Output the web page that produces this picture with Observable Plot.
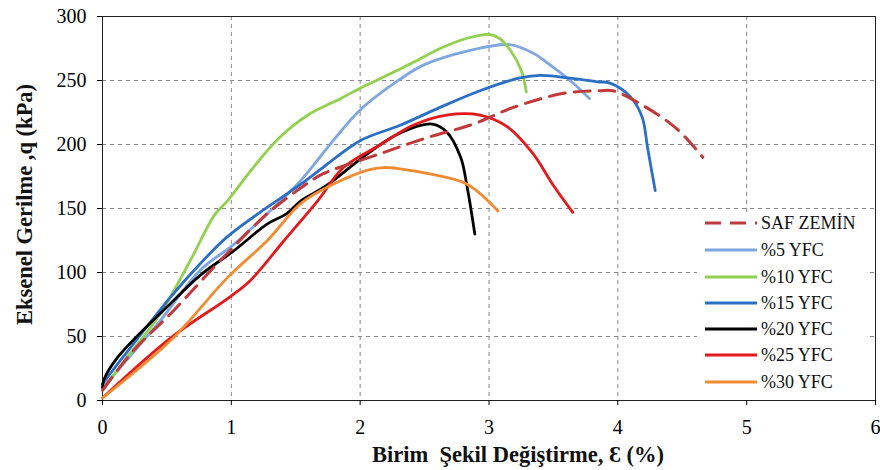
<!DOCTYPE html>
<html>
<head>
<meta charset="utf-8">
<script src="https://cdn.jsdelivr.net/npm/d3@7"></script>
<script src="https://cdn.jsdelivr.net/npm/@observablehq/plot@0.6"></script>
<style>
  html, body { margin: 0; padding: 0; background: #fff; }
  #wrap { position: relative; width: 880px; height: 470px; font-family: "Liberation Serif", "Times New Roman", serif; }
  #legend { position: absolute; left: 697px; top: 212px; width: 171px; height: 185px; background: #fff; }
  .row { position: absolute; left: 0; height: 20px; width: 171px; }
  .row svg { position: absolute; left: 6px; top: 0; }
  .row span { position: absolute; left: 64px; top: 0; line-height: 20px; font-size: 18px; color: #111; white-space: nowrap; }
</style>
</head>
<body>
<div id="wrap"><div id="chart"></div><div id="legend"></div></div>
<script>
// ---- data ----
const seriesNames = ["SAF ZEMİN", "%5 YFC", "%10 YFC", "%15 YFC", "%20 YFC", "%25 YFC", "%30 YFC"];

const safStrain = [0, 0.24, 0.53, 0.94, 1.28, 1.61, 1.71, 2.16, 2.54, 2.88, 3.19, 3.58, 3.86, 3.96, 4.22, 4.46, 4.66];
const safStress = [8, 39, 68, 112, 146, 171, 177, 193, 206, 216, 229, 240, 242, 242, 229, 212, 190];

const yfc5Strain = [0, 0.43, 0.76, 1.02, 1.28, 1.54, 1.79, 2.0, 2.31, 2.49, 2.83, 3.16, 3.35, 3.45, 3.63, 3.78];
const yfc5Stress = [10, 60, 102, 122, 146, 172, 203, 227, 251, 262, 273, 278, 271, 264, 250, 236];

const yfc10Strain = [0, 0.2, 0.43, 0.68, 0.87, 0.97, 1.17, 1.38, 1.61, 1.85, 2.0, 2.23, 2.41, 2.62, 2.83, 3.0, 3.08, 3.17, 3.25, 3.29];
const yfc10Stress = [8, 35, 65, 109, 145, 156, 182, 206, 224, 236, 244, 255, 264, 275, 283, 286, 283, 273, 258, 241];

const yfc15Strain = [0, 0.16, 0.53, 0.76, 0.97, 1.28, 1.54, 1.71, 2.0, 2.31, 2.62, 2.93, 3.24, 3.40, 3.84, 3.94, 4.10, 4.19, 4.23, 4.29];
const yfc15Stress = [13, 34, 81, 107, 128, 151, 169, 182, 203, 215, 229, 242, 252, 254, 249, 248, 237, 221, 198, 164];

const yfc20Strain = [0, 0.01, 0.12, 0.53, 0.76, 1.02, 1.28, 1.43, 1.54, 1.74, 2.02, 2.29, 2.56, 2.67, 2.78, 2.83, 2.89];
const yfc20Stress = [10, 16, 34, 76, 98, 117, 138, 146, 156, 168, 190, 208, 216, 210, 190, 167, 130];

const yfc25Strain = [0, 0.53, 0.99, 1.15, 1.41, 1.67, 1.87, 2.16, 2.41, 2.67, 2.93, 3.14, 3.34, 3.50, 3.65];
const yfc25Stress = [2, 49, 81, 94, 125, 156, 182, 200, 215, 223, 223, 214, 193, 168, 147];

const yfc30Strain = [0, 0.53, 0.97, 1.28, 1.54, 1.79, 2.06, 2.18, 2.31, 2.54, 2.83, 3.07];
const yfc30Stress = [2, 47, 96, 125, 154, 169, 180, 182, 181, 177, 169, 148];

const xTicks = [0, 1, 2, 3, 4, 5, 6];
const yTicks = [0, 50, 100, 150, 200, 250, 300];
const xLabel = "Birim  Şekil Değiştirme, Ɛ (%)";
const yLabel = "Eksenel Gerilme ,q (kPa)";

// ---- styling ----
const colors = ["#C0393B", "#7EA6E0", "#92D050", "#2A6FC4", "#000000", "#E3191C", "#F28C33"];
const fontFam = "'Liberation Serif', 'Times New Roman', serif";

const strains = [safStrain, yfc5Strain, yfc10Strain, yfc15Strain, yfc20Strain, yfc25Strain, yfc30Strain];
const stresses = [safStress, yfc5Stress, yfc10Stress, yfc15Stress, yfc20Stress, yfc25Stress, yfc30Stress];
const rows = [];
seriesNames.forEach((name, i) => {
  strains[i].forEach((s, j) => rows.push({series: name, strain: s, stress: stresses[i][j]}));
});
const solidRows = rows.filter(d => d.series !== seriesNames[0]);
const dashedRows = rows.filter(d => d.series === seriesNames[0]);

const chart = Plot.plot({
  width: 880,
  height: 470,
  marginLeft: 102,
  marginRight: 5,
  marginTop: 16,
  marginBottom: 70,
  style: {fontFamily: fontFam, background: "#fff"},
  x: {domain: [0, 6]},
  y: {domain: [0, 300]},
  color: {domain: seriesNames, range: colors},
  marks: [
    Plot.gridX(xTicks.slice(1, -1), {stroke: "#8a8a8a", strokeOpacity: 1, strokeDasharray: "4,4"}),
    Plot.gridY(yTicks.slice(1, -1), {stroke: "#8a8a8a", strokeOpacity: 1, strokeDasharray: "4,4"}),
    Plot.frame({stroke: "#222", strokeWidth: 1}),
    Plot.axisX({ticks: xTicks, tickSize: 5, tickPadding: 14, fontSize: 20, label: null, stroke: "#000", tickFormat: d => String(d)}),
    Plot.axisY({ticks: yTicks, tickSize: 5, tickPadding: 11, fontSize: 20, label: null, stroke: "#000", tickFormat: d => String(d)}),
    Plot.line(solidRows, {x: "strain", y: "stress", z: "series", stroke: "series", strokeWidth: 2.8, curve: "catmull-rom"}),
    Plot.line(dashedRows, {x: "strain", y: "stress", stroke: "series", strokeWidth: 3, strokeDasharray: "16,9", curve: "catmull-rom"}),
    Plot.text([xLabel], {frameAnchor: "bottom", dy: 61, dx: 29, text: d => d, fontSize: 22.5, fontWeight: "bold", fill: "#111", textAnchor: "middle"}),
    Plot.text([yLabel], {frameAnchor: "left", dx: -78, dy: -4, rotate: -90, text: d => d, fontSize: 22.5, fontWeight: "bold", fill: "#111", textAnchor: "middle"})
  ]
});
document.getElementById("chart").appendChild(chart);

// ---- legend overlay ----
const legend = document.getElementById("legend");
const rowTops = [1, 28, 55, 81, 107, 133, 160];
seriesNames.forEach((name, i) => {
  const r = document.createElement("div");
  r.className = "row";
  r.style.top = rowTops[i] + "px";
  const dash = i === 0 ? ' stroke-dasharray="16,9"' : '';
  r.innerHTML = `<svg width="56" height="20"><line x1="2" x2="54" y1="10" y2="10" stroke="${colors[i]}" stroke-width="3"${dash}/></svg><span>${name}</span>`;
  legend.appendChild(r);
});
</script>
</body>
</html>
